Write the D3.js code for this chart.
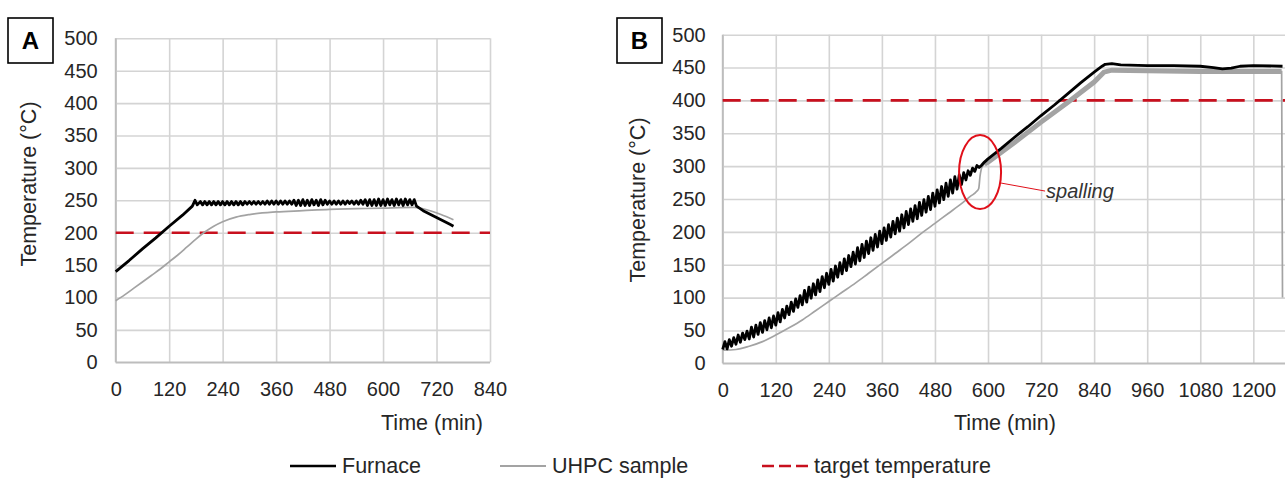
<!DOCTYPE html>
<html>
<head>
<meta charset="utf-8">
<script src="https://cdn.jsdelivr.net/npm/d3@7"></script>
<style>
  body { margin: 0; background: #fff; }
  svg { display: block; font-family: "Liberation Sans", Arial, sans-serif; }
</style>
</head>
<body>
<script>
// ---- DATA -----------------------------------------------------------------

const yTicks = [0, 50, 100, 150, 200, 250, 300, 350, 400, 450, 500];
const xTicksA = [0, 120, 240, 360, 480, 600, 720, 840];
const xTicksB = [0, 120, 240, 360, 480, 600, 720, 840, 960, 1080, 1200];

const targetA = 200,
      targetB = 400;

// panel A, furnace [time (min), temperature (°C)]
const furnaceA = [
  [0,140],[30,157],[60,175],[90,192],[120,210],[150,227],[172,241],[178,250],[183,243],
  [190,248],[195,243],[200,248],[205,243],[210,248],[215,243],[220,248],[225,243],[230,248],[235,243],
  [240,248],[245,243],[250,248],[255,243],[260,248],[265,243],[270,248],[275,243],[280,248],[285,243],
  [290,248],[295,244],[300,248],[305,244],[310,248],[315,244],[320,248],[325,244],[330,248],[335,244],
  [340,249],[345,244],[350,249],[355,244],[360,249],[365,244],[370,249],[375,244],[380,249],[385,244],
  [390,249],[395,244],[400,250],[405,242],[410,250],[415,242],[420,251],[425,242],[430,250],[435,242],
  [440,251],[445,243],[450,250],[455,242],[460,251],[465,243],[470,250],[475,244],[480,249],[485,244],
  [490,249],[495,244],[500,249],[505,244],[510,249],[515,244],[520,249],[525,245],[530,249],[535,244],
  [540,249],[545,244],[550,250],[555,244],[560,251],[565,242],[570,251],[575,242],[580,251],[585,242],
  [590,252],[595,242],[600,251],[605,242],[610,252],[615,243],[620,251],[625,242],[630,252],[635,243],
  [640,251],[645,242],[650,252],[655,243],[660,251],[665,243],[670,251],
  [675,241],[690,234],[710,227],[730,220],[750,213],[758,210]
];

// panel A, UHPC sample
const sampleA = [
  [0,95],[20,104],[40,114],[60,124],[80,134],[100,144],[120,155],[140,166],[160,178],[180,190],
  [200,201],[220,210],[240,217],[270,224],[300,228],[360,232],[420,234],[480,236],[540,237],
  [600,238],[670,239],[700,235],[730,228],[758,220]
];

// panel B, furnace
const furnaceB = [
  [0,21],[5,33],[10,22],[15,36],[20,26],[25,39],[30,29],[35,43],[40,32],[45,46],[50,36],[55,49],
  [60,37],[65,55],[70,40],[75,58],[80,44],[85,62],[90,47],[95,65],[100,51],[105,69],[110,54],[115,72],
  [120,58],[125,77],[130,63],[135,82],[140,69],[145,87],[150,74],[155,93],[160,79],[165,98],[170,85],[175,103],
  [180,89],[185,111],[190,93],[195,116],[200,99],[205,121],[210,104],[215,127],[220,109],[225,132],[230,115],[235,137],
  [240,120],[245,143],[250,125],[255,148],[260,131],[265,153],[270,136],[275,159],[280,141],[285,164],[290,147],[295,169],
  [300,151],[305,176],[310,156],[315,181],[320,161],[325,186],[330,167],[335,191],[340,172],[345,196],[350,177],[355,201],
  [360,182],[365,206],[370,187],[375,211],[380,192],[385,216],[390,197],[395,221],[400,201],[405,226],[410,206],[415,231],
  [420,211],[425,235],[430,216],[435,240],[440,220],[445,245],[450,225],[455,249],[460,230],[465,254],[470,234],[475,259],
  [480,239],[485,264],[490,244],[495,269],[500,249],[505,274],[510,254],[515,279],[520,259],[525,284],[530,265],[535,287],
  [540,272],[545,290],[550,279],[555,293],[560,286],[565,297],[570,292],[575,301],[580,298],[585,301],[590,305],
  [600,311],[630,327],[660,344],[690,360],[720,377],[750,393],[780,410],[810,427],[840,443],[858,452],
  [865,455],[880,456],[900,454],[960,453],[1020,453],[1080,452],[1110,450],[1130,448],[1150,449],[1170,452],
  [1200,453],[1266,452]
];

// panel B, UHPC sample
const sampleB = [
  [0,20],[30,21],[60,26],[90,33],[120,43],[150,54],[180,66],[210,80],[240,94],[270,108],[300,122],
  [330,137],[360,152],[390,167],[420,182],[450,198],[480,213],[510,228],[540,243],[560,254],[575,262],
  [579,266],[582,285],[586,298],[592,303],[600,306],[660,336],[720,367],[780,397],[840,428],[862,443],
  [880,446],[960,445],[1080,444],[1200,444],[1264,444],[1266,100]
];

const spalling = { t: 582, T: 291, text: "spalling" };

const legendItems = ["Furnace", "UHPC sample", "target temperature"];

// ---- STYLE ---------------------------------------------------------------

const gridColor = "#d4d4d4",
      textColor = "#262626",
      furnaceColor = "#000000",
      sampleColor = "#a3a3a3",
      targetColor = "#c8101e",
      fontSize = 20,
      titleSize = 21.5;

const svg = d3.select("body").append("svg")
  .attr("width", 1285)
  .attr("height", 483);

const line = (x, y, curve) => d3.line().curve(curve || d3.curveLinear).x(d => x(d[0])).y(d => y(d[1]));

function drawPanel(p) {
  const { x, y } = p;
  const [x0, x1] = x.range(), [y0, y1] = y.range();
  const g = svg.append("g");

  // grid + tick labels
  const ya = g.append("g")
    .attr("transform", `translate(${x0},0)`)
    .call(d3.axisLeft(y).tickValues(yTicks).tickFormat(d3.format("d"))
      .tickSize(-(x1 - x0)).tickPadding(p.yPad));
  const xa = g.append("g")
    .attr("transform", `translate(0,${y0})`)
    .call(d3.axisBottom(x).tickValues(p.xTicks).tickFormat(d3.format("d"))
      .tickSize(-(y0 - y1)).tickPadding(20));

  [ya, xa].forEach(a => {
    a.attr("font-family", null).attr("font-size", null);
    a.select(".domain").remove();
    a.selectAll(".tick line").attr("stroke", gridColor).attr("stroke-width", 1.6);
    a.selectAll(".tick text").attr("font-size", fontSize).attr("fill", textColor);
  });

  // axis lines a bit darker
  g.append("line").attr("x1", x0).attr("x2", x1).attr("y1", y0).attr("y2", y0)
    .attr("stroke", "#bdbdbd").attr("stroke-width", 1.8);
  g.append("line").attr("x1", x0).attr("x2", x0).attr("y1", y0).attr("y2", y1)
    .attr("stroke", "#bdbdbd").attr("stroke-width", 1.8);

  // target temperature
  g.append("line")
    .attr("x1", x0).attr("x2", x1)
    .attr("y1", y(p.target)).attr("y2", y(p.target))
    .attr("stroke", targetColor).attr("stroke-width", 2.6)
    .attr("stroke-dasharray", "18,10");

  // UHPC sample
  g.append("path").datum(p.sample)
    .attr("d", line(x, y, d3.curveMonotoneX))
    .attr("fill", "none").attr("stroke", sampleColor).attr("stroke-width", 1.7);
  if (p.sampleBandFrom != null) {
    g.append("path").datum(p.sample.filter(d => d[0] >= p.sampleBandFrom && d[1] > 300))
      .attr("d", line(x, y))
      .attr("fill", "none").attr("stroke", sampleColor).attr("stroke-width", 5);
  }

  // furnace
  g.append("path").datum(p.furnace)
    .attr("d", line(x, y))
    .attr("fill", "none").attr("stroke", furnaceColor)
    .attr("stroke-width", p.furnaceWidth).attr("stroke-linejoin", "round");

  // axis titles
  g.append("text")
    .attr("transform", `translate(${p.yTitle[0]},${p.yTitle[1]}) rotate(-90)`)
    .attr("text-anchor", "middle")
    .attr("font-size", titleSize).attr("fill", textColor)
    .text("Temperature (°C)");
  g.append("text")
    .attr("x", p.xTitle[0]).attr("y", p.xTitle[1])
    .attr("text-anchor", "middle")
    .attr("font-size", titleSize).attr("fill", textColor)
    .text("Time (min)");

  // panel letter box
  g.append("rect")
    .attr("x", p.box[0]).attr("y", p.box[1]).attr("width", 45).attr("height", 45)
    .attr("fill", "#fff").attr("stroke", "#000").attr("stroke-width", 1.6);
  g.append("text")
    .attr("x", p.box[0] + 22.5).attr("y", p.box[1] + 31)
    .attr("text-anchor", "middle")
    .attr("font-size", 24).attr("font-weight", "bold").attr("fill", "#000")
    .text(p.letter);

  return g;
}

// ---- PANEL A ------------------------------------------------------------
const xA = d3.scaleLinear().domain([0, 840]).range([115.7, 490]);
const yA = d3.scaleLinear().domain([0, 500]).range([362.3, 38.3]);

drawPanel({
  x: xA, y: yA, xTicks: xTicksA, yPad: 18,
  furnace: furnaceA, sample: sampleA, target: targetA, furnaceWidth: 2.8,
  yTitle: [36, 184], xTitle: [432, 430], box: [8, 18], letter: "A"
});

// ---- PANEL B ------------------------------------------------------------
const xB = d3.scaleLinear().domain([0, 1320]).range([722.7, 1306.4]);
const yB = d3.scaleLinear().domain([0, 500]).range([363.3, 34.7]);

const gB = drawPanel({
  x: xB, y: yB, xTicks: xTicksB, yPad: 17,
  furnace: furnaceB, sample: sampleB, target: targetB, furnaceWidth: 2.8,
  sampleBandFrom: 592,
  yTitle: [645, 200], xTitle: [1005, 430], box: [617, 18], letter: "B"
});

// spalling annotation
const sx = xB(spalling.t), sy = yB(spalling.T);
gB.append("ellipse")
  .attr("cx", sx).attr("cy", sy).attr("rx", 21).attr("ry", 37)
  .attr("fill", "none").attr("stroke", "#e0101a").attr("stroke-width", 2);
gB.append("line")
  .attr("x1", sx + 21).attr("y1", sy + 11).attr("x2", sx + 65).attr("y2", sy + 19)
  .attr("stroke", "#e0101a").attr("stroke-width", 1);
gB.append("text")
  .attr("x", sx + 66).attr("y", sy + 26)
  .attr("font-size", fontSize).attr("font-style", "italic").attr("fill", "#333")
  .text(spalling.text);

// ---- LEGEND -------------------------------------------------------------
const legendY = 466;
const legendPos = [290, 500, 762];      // left end of each sample line
const legend = svg.append("g");
legendItems.forEach((name, i) => {
  const lx = legendPos[i];
  const l = legend.append("line")
    .attr("x1", lx).attr("x2", lx + 46).attr("y1", legendY).attr("y2", legendY);
  if (i === 0) l.attr("stroke", furnaceColor).attr("stroke-width", 2.6);
  if (i === 1) l.attr("stroke", sampleColor).attr("stroke-width", 1.8);
  if (i === 2) l.attr("stroke", targetColor).attr("stroke-width", 2.6).attr("stroke-dasharray", "12,5");
  legend.append("text")
    .attr("x", lx + 52).attr("y", legendY + 7)
    .attr("font-size", titleSize).attr("fill", textColor)
    .text(name);
});
</script>
</body>
</html>
